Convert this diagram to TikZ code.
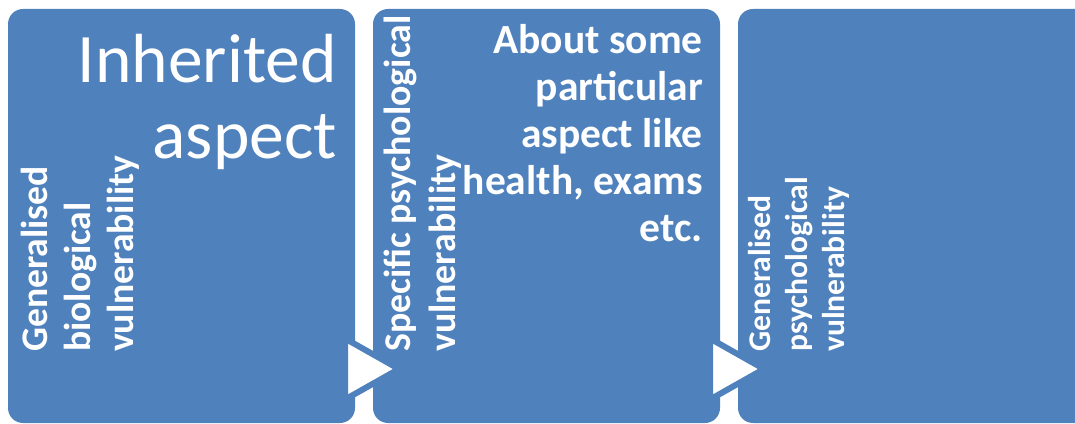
\documentclass[tikz,border=0pt]{standalone}
\usepackage{fontspec}
\setmainfont{Carlito}
\definecolor{boxblue}{HTML}{4F81BD}
\begin{document}
\begin{tikzpicture}[x=1pt,y=1pt,
  panel/.style={draw=none,fill=boxblue,rounded corners=15pt,inner sep=0pt,outer sep=0pt},
  arrowtri/.style={draw=boxblue,fill=white,line width=6pt,line join=miter},
  sidelabel/.style={text=white,font=\bfseries,rotate=90,align=left,inner sep=0pt,anchor=north west},
  mainlabel/.style={text=white,align=right,inner sep=0pt,anchor=north east}]
\useasboundingbox (0,0) rectangle (1075,423);
\clip (0,0) rectangle (1075,423);
% three panels
\node[panel,minimum width=347pt,minimum height=414pt] (b1) at (181.5,207) {};
\node[panel,minimum width=347pt,minimum height=414pt] (b2) at (546.5,207) {};
\node[panel,minimum width=357pt,minimum height=414pt] (b3) at (916.5,207) {};
% arrow heads between panels
\draw[arrowtri] (345,84.5) -- (345,23.5) -- (399,54) -- cycle;
\draw[arrowtri] (710,84.5) -- (710,23.5) -- (764,54) -- cycle;
% panel texts
\node[mainlabel,font=\fontsize{69.5}{76}\selectfont] (h1) at (337,389) {Inherited\\aspect};
\node[sidelabel,font=\bfseries\fontsize{37.6}{43}\selectfont] (s1) at (21,71) {Generalised\\biological\\vulnerability};
\node[mainlabel,font=\bfseries\fontsize{41.5}{47}\selectfont] (h2) at (703,398.5) {About some\\particular\\aspect like\\health, exams\\etc.};
\node[sidelabel,font=\bfseries\fontsize{37.8}{45}\selectfont] (s2) at (384,71) {Specific psychological\\vulnerability};
\node[sidelabel,font=\bfseries\fontsize{31.6}{37}\selectfont] (s3) at (748,71) {Generalised\\psychological\\vulnerability};
\end{tikzpicture}
\end{document}
